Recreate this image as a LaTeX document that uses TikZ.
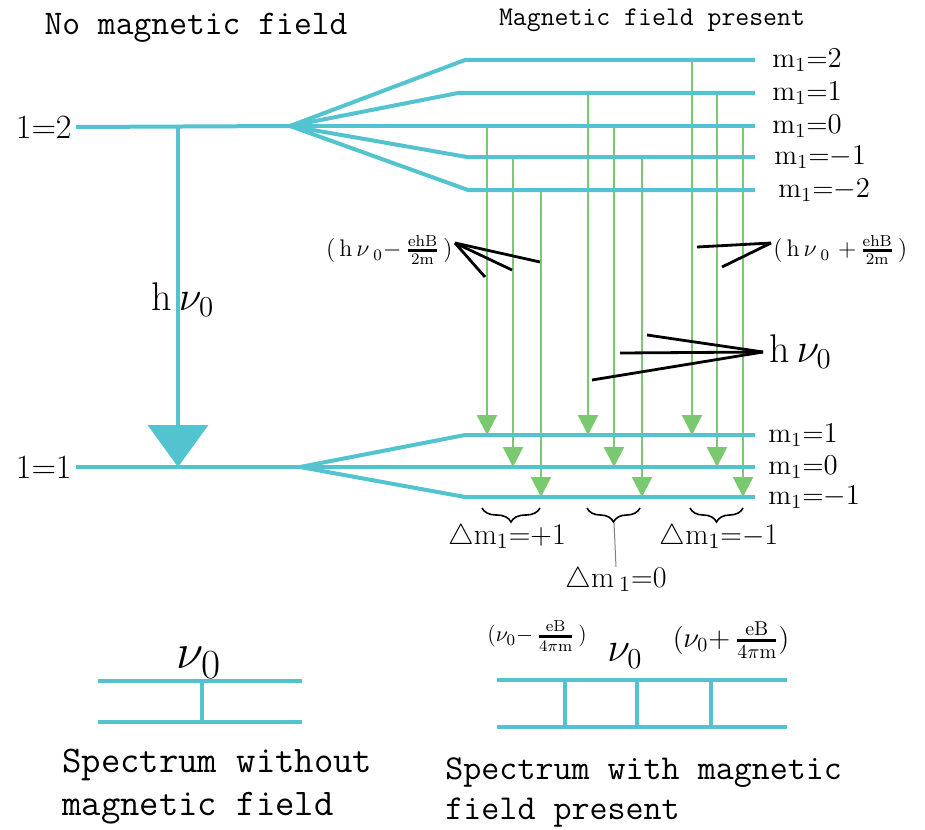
\documentclass[tikz,border=0pt]{standalone}
\usepackage{amsmath}
\usetikzlibrary{arrows.meta,decorations.pathreplacing}
\definecolor{levelblue}{RGB}{84,195,208}
\definecolor{transgreen}{RGB}{122,200,112}
\begin{document}
\begin{tikzpicture}[x=0.5pt,y=-0.5pt,
  lvl/.style={levelblue,line width=2pt},
  trans/.style={transgreen,line width=1.2pt,-{Triangle[width=10pt,length=10pt]}},
  pointer/.style={black,line width=1.4pt},
  mlab/.style={anchor=west,inner sep=0pt,font=\fontsize{14}{16}\selectfont},
  dlab/.style={inner sep=0pt,font=\fontsize{15}{18}\selectfont},
  mono/.style 2 args={font=\ttfamily\fontsize{#1}{#2}\selectfont}]
\useasboundingbox (0,0) rectangle (925,829);
% headings
\node[mono={17.3}{20}] (nofield) at (196,28) {No magnetic field};
\node[mono={13.5}{16}] (withfield) at (652,20) {Magnetic field present};
% upper level and its splitting
\node[anchor=east,inner sep=2pt,font=\fontsize{17}{19}\selectfont] (l2) at (76,127) {1=2};
\coordinate (u-split) at (290,126);
\foreach \y/\xs/\n/\xl in {60/465/2/772,93/458/1/772,126/290/0/772,157/467/-1/774,190/468/-2/778}
{
  \coordinate (u\n-k) at (\xs,\y);
  \coordinate (u\n-e) at (755,\y);
  \node[mlab] (u\n) at (\xl,\y) {m$_1$=$\n$};
}
% lower level and its splitting
\node[anchor=east,inner sep=2pt,font=\fontsize{17}{19}\selectfont] (l1) at (76,467) {1=1};
\coordinate (d-split) at (300,467);
\foreach \y/\xs/\n in {435/465/1,467/300/0,497/465/-1}
{
  \coordinate (d\n-k) at (\xs,\y);
  \coordinate (d\n-e) at (755,\y);
  \node[mlab] (d\n) at (768,\y) {m$_1$=$\n$};
}
% transitions
\foreach \x/\a/\b in {487/0/1,513/-1/0,541/-2/-1,588/1/1,614/0/0,642/-1/-1,692/2/1,717/1/0,743/0/-1}
  \draw[trans] (\x,0 |- u\a-e) -- (\x,0 |- d\b-e);
\draw[lvl] (l2.east) -- (u-split);
\foreach \n in {2,1,0,-1,-2}
  \draw[lvl] (u-split) -- (u\n-k) -- (u\n-e);
\draw[lvl] (l1.east) -- (d-split);
\foreach \n in {1,0,-1}
  \draw[lvl] (d-split) -- (d\n-k) -- (d\n-e);
% transition without field
\coordinate (hv-top) at (178,126);
\coordinate (hv-bot) at (178,467);
\draw[lvl,-{Triangle[width=30pt,length=21pt]}] (hv-top) -- (hv-bot);
\node[font=\fontsize{20}{24}\selectfont] (hv) at (183,300) {h\,$\nu_0$};
% braces
\foreach \i/\xa/\xb in {1/482/540,2/587/640,3/690/743}
{
  \coordinate (b\i-a) at (\xa,508);
  \coordinate (b\i-b) at (\xb,508);
  \draw[decorate,decoration={brace,mirror,amplitude=7pt},line width=0.8pt] (b\i-a) -- (b\i-b);
}
\coordinate (b2-tip) at (614,523);
\node[dlab] (dm0) at (616,580) {$\triangle$m\,$_1$=0};
\draw[gray,line width=0.5pt] (b2-tip) -- (dm0.north);
\node[dlab] (dmp) at (507,537) {$\triangle$m$_1$=+1};
\node[dlab] (dmm) at (719,537) {$\triangle$m$_1$=$-$1};
% pointers
\node[anchor=east,inner sep=1pt,font=\fontsize{12}{14}\selectfont] (lminus) at (455,250)
  {(\,h\,$\nu$\,$_0$$-$\,$\genfrac{}{}{1.4pt}{}{\mathrm{ehB}}{\mathrm{2m}}$\,)};
\coordinate (lm-tip) at (455,243);
\foreach \p in {{(540,262)},{(512,270)},{(485,277)}}
  \draw[pointer] (lm-tip) -- \p;
\node[anchor=west,inner sep=1pt,font=\fontsize{12}{14}\selectfont] (lplus) at (771,250)
  {(\,h\,$\nu$\,$_0$ $+$\,$\genfrac{}{}{1.4pt}{}{\mathrm{ehB}}{\mathrm{2m}}$\,)};
\coordinate (lp-tip) at (771,243);
\foreach \p in {{(697,247)},{(722,267)}}
  \draw[pointer] (lp-tip) -- \p;
\node[anchor=west,inner sep=2pt,font=\fontsize{20}{24}\selectfont] (mid) at (765,352) {h\,$\nu_0$};
\coordinate (mid-tip) at (763,352);
\foreach \p in {{(647,335)},{(620,353)},{(592,380)}}
  \draw[pointer] (mid-tip) -- \p;
% spectrum without field
\node[font=\fontsize{28}{32}\selectfont] (nu0) at (199,663) {$\nu_0$};
\coordinate (s1-a) at (98,681);  \coordinate (s1-b) at (302,681);
\coordinate (s1-c) at (98,722);  \coordinate (s1-d) at (302,722);
\draw[lvl] (s1-a) -- (s1-b);
\draw[lvl] (s1-c) -- (s1-d);
\draw[lvl] (202,0 |- s1-a) -- (202,0 |- s1-c);
\node[mono={18.8}{21.5},anchor=west,align=left,inner sep=0pt] (spec1) at (62,787) {Spectrum without\\magnetic field};
% spectrum with field
\node[font=\fontsize{11}{13}\selectfont] (numinus) at (537,636)
  {($\nu_0$$-$\,$\genfrac{}{}{1.6pt}{}{\mathrm{eB}}{4\pi\mathrm{m}}$\,)};
\node[font=\fontsize{22}{26}\selectfont] (nu0b) at (625,656) {$\nu_0$};
\node[font=\fontsize{14}{16}\selectfont] (nuplus) at (731,640)
  {($\nu_0$$+$\,$\genfrac{}{}{1.6pt}{}{\mathrm{eB}}{4\pi\mathrm{m}}$)};
\coordinate (s2-a) at (497,680);  \coordinate (s2-b) at (787,680);
\coordinate (s2-c) at (497,727);  \coordinate (s2-d) at (787,727);
\draw[lvl] (s2-a) -- (s2-b);
\draw[lvl] (s2-c) -- (s2-d);
\foreach \x in {565,637,711}
  \draw[lvl] (\x,0 |- s2-a) -- (\x,0 |- s2-c);
\node[mono={17.5}{20},anchor=west,align=left,inner sep=0pt] (spec2) at (445,792) {Spectrum with magnetic\\field present};
\end{tikzpicture}
\end{document}
